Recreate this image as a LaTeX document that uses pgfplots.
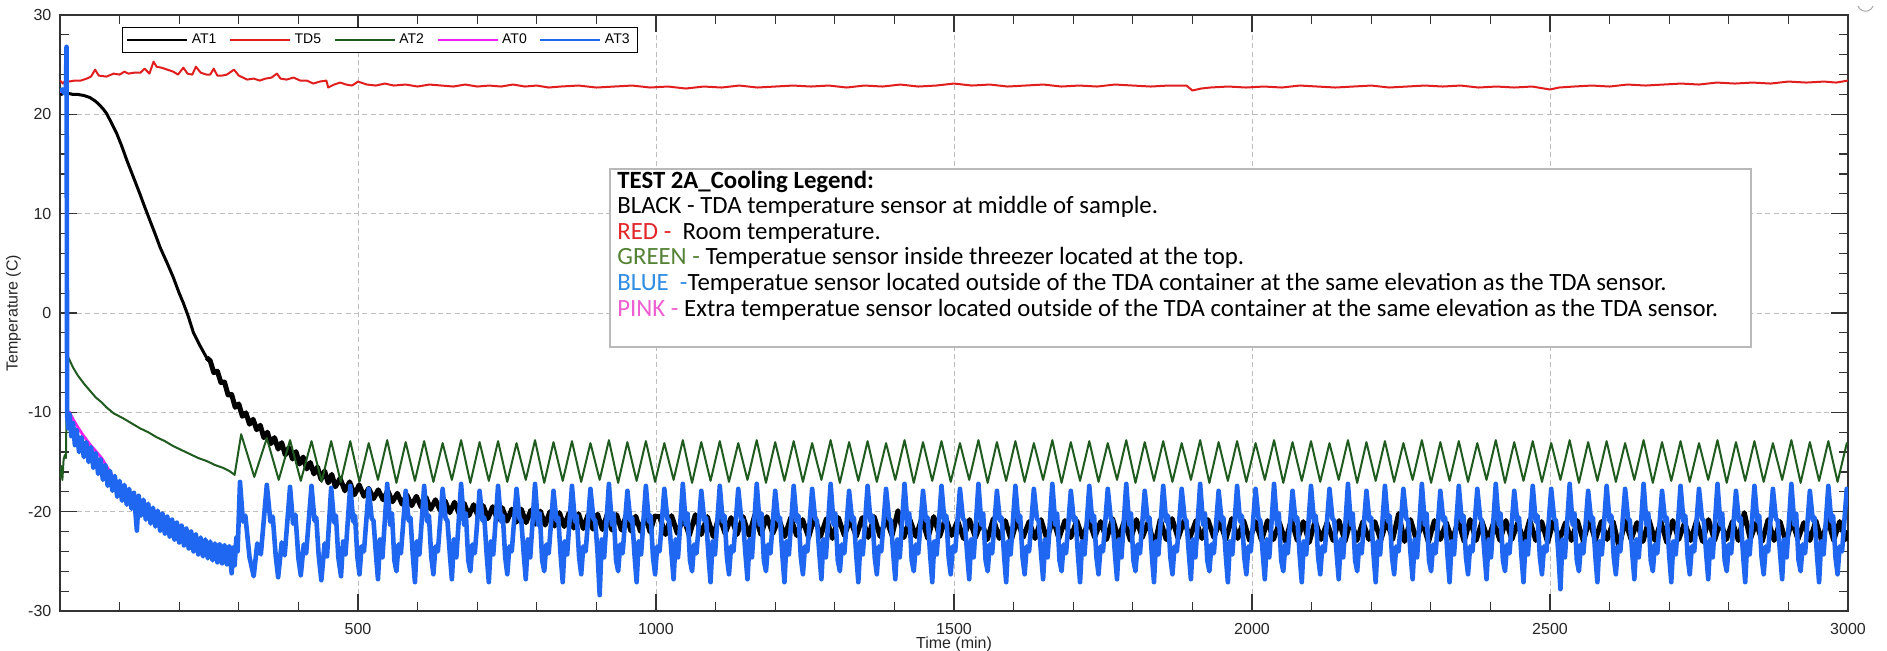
\documentclass[border=0pt]{standalone}
\usepackage{fontspec}
\setmainfont{Liberation Sans}
\newfontfamily\carlito{Carlito}
\usepackage{pgfplots}
\pgfplotsset{compat=1.18}
\definecolor{cRed}{HTML}{E01E1E}
\definecolor{cGreen}{HTML}{1F5A1F}
\definecolor{cBlue}{HTML}{1F66F0}
\definecolor{cPink}{HTML}{F020F0}
\definecolor{tRed}{HTML}{E3262A}
\definecolor{tGreen}{HTML}{548235}
\definecolor{tBlue}{HTML}{2F8DE4}
\definecolor{tPink}{HTML}{EE5FD1}
\definecolor{gridc}{HTML}{BDBDBD}
\begin{document}
\begin{tikzpicture}
\useasboundingbox (-30pt,-19.5pt) rectangle (913.5pt,305.5pt);
\begin{axis}[
  scale only axis, width=894pt, height=298pt,
  xmin=0, xmax=3000, ymin=-30, ymax=30,
  xtick={0,500,1000,1500,2000,2500,3000},
  xticklabels={,500,1000,1500,2000,2500,3000},
  ytick={-30,-20,-10,0,10,20,30},
  minor x tick num=4, minor y tick num=4,
  tick align=inside,
  major tick length=8.5pt, minor tick length=4.5pt,
  xmajorgrids, ymajorgrids,
  major grid style={dash pattern=on 2.5pt off 1.7pt, color=gridc, line width=0.5pt},
  axis line style={line width=0.7pt, color=black!80},
  every tick/.style={black!80, line width=0.6pt},
  tick label style={font=\fontsize{8}{9}\selectfont, color=black!85},
  xticklabel style={yshift=-2.6pt},
  yticklabel style={xshift=-0.8pt},
  /pgf/number format/assume math mode=true,
  /pgf/number format/1000 sep={},
  xlabel={Time (min)},
  ylabel={Temperature (C)},
  xlabel style={at={(axis description cs:0.5,-0.0634)}, anchor=base, inner sep=0pt, font=\fontsize{8}{9}\selectfont, color=black!85},
  ylabel style={at={(axis description cs:-0.0237,0.5)}, anchor=base, font=\fontsize{8}{9}\selectfont, color=black!85},
  legend columns=5,
  legend style={at={(axis description cs:0.0347,0.980)}, anchor=north west, draw=black, line width=0.6pt, fill=white, font=\fontsize{7}{8}\selectfont, inner xsep=2pt, inner ysep=1pt, /tikz/every even column/.append style={column sep=4.5pt}},
  legend image code/.code={\draw[#1, line width=0.6pt] (0pt,0pt) -- (30pt,0pt);},
]
% AT1 (black), smooth start
\addplot[black, line width=1.5pt, line join=round] coordinates {
(0,22.3)(3,22.0)(6,22.4)(10,22.2)(15,22.1)(22,22.0)(30,22.0)(40,21.9)(50,21.7)(60,21.3)(67,20.9)(73,20.5)(78,20.1)(85,19.3)(95,18.1)(103,16.9)(112,15.4)(123,13.7)(134,12.0)(142,10.7)(151,9.3)(160,7.9)(168,6.6)(180,5.0)(190,3.6)(200,2.0)(207,1.0)(215,-0.3)(224,-2.0)(235,-3.3)(246,-4.5)(252,-5.0)
};
\addlegendentry{AT1}
% AT1 (black), noisy part
\addplot[black, line width=2.5pt, line join=round, forget plot] coordinates {
(246,-4.5)(252,-4.8)(258,-6.0)(264,-5.85)(270,-7.0)(276,-6.95)(282,-8.25)(288,-8.2)(294,-9.5)(300,-9.15)(306,-10.4)(312,-10.05)(318,-11.2)(324,-10.7)(330,-11.75)(336,-11.3)(342,-12.55)(348,-12.0)(354,-13.15)(360,-12.55)(366,-13.7)(372,-13.05)(378,-14.3)(384,-13.55)(390,-14.7)(396,-13.95)(402,-15.2)(408,-14.5)(414,-15.7)(420,-15.05)(426,-16.2)(432,-15.5)(438,-16.75)(444,-15.9)(450,-17.1)(456,-16.25)(462,-17.5)(470,-16.65)(478,-17.9)(486,-17.0)(494,-18.3)(502,-17.3)
(510,-18.45)(518,-17.65)(526,-18.7)(534,-17.8)(542,-18.8)(550,-17.9)(558,-19.0)(566,-18.15)(574,-19.25)(582,-18.3)(590,-19.4)(598,-18.45)(606,-19.55)(614,-18.55)(622,-19.75)(630,-18.8)(638,-19.9)(646,-18.9)(654,-20.1)(662,-19.05)(670,-20.25)(678,-19.15)(686,-20.4)(694,-19.3)(702,-20.55)(710,-19.4)(718,-20.7)(726,-19.5)(734,-20.8)(742,-19.6)(750,-20.95)(758,-19.75)(766,-21.05)(774,-19.75)(782,-21.1)(790,-19.85)(798,-21.25)(806,-19.95)(814,-21.35)(822,-20.0)(830,-21.45)(838,-20.1)(846,-21.5)(854,-20.15)(862,-21.65)(870,-20.2)(878,-21.7)(886,-20.3)(894,-21.75)(902,-20.25)(910,-21.8)(918,-20.3)(926,-21.85)(934,-20.3)(942,-21.85)(950,-20.35)(958,-21.95)(966,-20.45)(974,-22.0)(982,-20.4)(990,-22.05)(998,-20.45)
(1006,-20.5)(1016,-22.3)(1026,-20.4)(1036,-22.2)(1046,-20.6)(1056,-22.4)(1066,-20.3)(1076,-22.3)(1086,-20.5)(1096,-22.5)(1106,-20.4)(1116,-22.2)(1126,-20.6)(1136,-22.3)(1146,-20.5)(1156,-22.4)(1166,-20.3)(1176,-22.3)(1186,-20.5)(1196,-22.2)
(1206,-20.7)(1216,-22.5)(1226,-20.6)(1236,-22.4)(1246,-20.8)(1256,-22.6)(1266,-20.5)(1276,-22.5)(1286,-20.7)(1296,-22.7)(1306,-20.6)(1316,-22.4)(1326,-20.8)(1336,-22.5)(1346,-20.6)(1356,-22.6)(1366,-20.5)(1376,-22.5)(1386,-20.7)(1396,-22.4)(1406,-19.9)(1416,-22.6)(1426,-20.8)(1436,-22.5)(1446,-20.7)(1456,-22.7)(1466,-20.5)(1476,-22.5)(1486,-20.6)(1496,-22.4)
(1506,-20.9)(1516,-22.7)(1526,-20.8)(1536,-22.6)(1546,-21.0)(1556,-22.8)(1566,-20.7)(1576,-22.7)(1586,-20.9)(1596,-22.9)(1606,-20.8)(1616,-22.6)(1626,-21.0)(1636,-22.7)(1646,-20.8)(1656,-22.8)(1666,-20.7)(1676,-22.7)(1686,-20.9)(1696,-22.6)
(1706,-20.9)(1716,-22.7)(1726,-20.8)(1736,-22.6)(1746,-21.0)(1756,-22.8)(1766,-20.7)(1776,-22.7)(1786,-20.9)(1796,-22.9)(1806,-20.8)(1816,-22.6)(1826,-21.0)(1836,-23.5)(1846,-20.8)(1856,-22.8)(1866,-20.7)(1876,-22.7)(1886,-20.9)(1896,-22.6)
(1906,-20.9)(1916,-22.7)(1926,-20.8)(1936,-22.6)(1946,-21.0)(1956,-22.8)(1966,-20.7)(1976,-22.7)(1986,-20.9)(1996,-22.9)
(2006,-21.0)(2016,-22.9)(2026,-20.9)(2036,-22.8)(2046,-21.1)(2056,-23.0)(2066,-20.8)(2076,-22.9)(2086,-21.0)(2096,-23.1)(2106,-20.9)(2116,-22.8)(2126,-21.1)(2136,-22.9)(2146,-20.9)(2156,-23.0)(2166,-20.8)(2176,-22.9)(2186,-21.0)(2196,-22.8)
(2206,-21.0)(2216,-22.9)(2226,-20.9)(2236,-22.8)(2246,-20.2)(2256,-23.0)(2266,-20.8)(2276,-22.9)(2286,-21.0)(2296,-23.1)(2306,-20.9)(2316,-22.8)(2326,-21.1)(2336,-22.9)(2346,-20.9)(2356,-23.0)(2366,-20.8)(2376,-22.9)(2386,-21.0)(2396,-22.8)
(2406,-21.0)(2416,-22.9)(2426,-20.9)(2436,-22.8)(2446,-21.1)(2456,-23.0)(2466,-20.8)(2476,-22.9)(2486,-21.0)(2496,-23.1)(2506,-20.9)(2516,-22.8)(2526,-21.1)(2536,-22.9)(2546,-20.9)(2556,-23.0)(2566,-20.8)(2576,-22.9)(2586,-21.0)(2596,-22.8)
(2606,-21.0)(2616,-23.6)(2626,-20.9)(2636,-22.8)(2646,-21.1)(2656,-23.0)(2666,-20.8)(2676,-22.9)(2686,-21.0)(2696,-23.1)(2706,-20.9)(2716,-22.8)(2726,-21.1)(2736,-22.9)(2746,-20.9)(2756,-23.0)(2766,-20.8)(2776,-22.9)(2786,-21.0)(2796,-22.8)
(2806,-21.0)(2816,-22.9)(2826,-20.1)(2836,-22.8)(2846,-21.1)(2856,-23.0)(2866,-20.8)(2876,-22.9)(2886,-21.0)(2896,-23.1)(2906,-20.9)(2916,-22.8)(2926,-21.1)(2936,-22.9)(2946,-20.9)(2956,-23.0)(2966,-20.8)(2976,-22.9)(2986,-21.0)(2996,-22.8)(3000,-21.9)
};
% TD5 (red)
\addplot[cRed, line width=1pt, line join=round] coordinates {
(0,23.4)(5,23.1)(10,23.5)(15,23.3)(25,23.4)(35,23.4)(45,23.6)(52,23.8)(59,24.5)(65,23.9)(78,23.8)(90,24.1)(100,24.0)(108,24.3)(115,24.1)(125,24.2)(135,24.2)(142,24.6)(150,24.1)(157,25.3)(162,24.8)(170,24.7)(180,24.5)(190,24.3)(198,24.0)(207,24.7)(214,24.1)(222,24.0)(228,24.8)(236,24.2)(246,24.0)(252,24.0)(258,24.6)(264,23.9)(272,23.9)(280,24.0)(292,24.5)(300,23.9)(314,23.5)(325,23.6)(335,23.4)(345,23.6)(355,23.7)(364,24.1)(370,23.6)(380,23.5)(392,23.7)(403,23.4)(414,23.4)(425,23.1)(436,23.3)(447,23.4)(450,22.7)(460,23.0)(470,23.2)(480,23.0)(490,22.9)(500,23.3)(515,23.0)(530,22.9)(545,23.1)(560,22.9)(580,23.0)(600,22.8)(620,23.0)(640,22.9)(660,22.8)(680,23.0)(700,22.8)(720,22.9)(740,22.8)(760,23.0)(780,22.8)(800,22.9)(820,22.7)(840,22.8)(870,22.9)(900,22.7)(930,22.8)(960,22.9)(990,22.7)(1020,22.8)(1050,22.6)(1080,22.8)(1110,22.7)(1140,22.9)(1170,22.7)(1200,22.8)(1230,22.9)(1260,22.8)(1290,22.9)(1320,22.7)(1350,22.9)(1380,22.8)(1410,23.0)(1440,22.8)(1470,22.9)(1500,23.1)(1530,22.9)(1560,23.0)(1590,22.8)(1620,22.9)(1650,23.0)(1680,22.8)(1710,22.9)(1740,22.8)(1770,23.0)(1800,22.9)(1830,22.8)(1860,22.9)(1890,22.9)(1900,22.4)(1915,22.6)(1930,22.7)(1960,22.8)(1990,22.7)(2020,22.8)(2050,22.7)(2080,22.9)(2110,22.8)(2140,22.7)(2170,22.8)(2200,22.9)(2230,22.7)(2260,22.8)(2290,22.9)(2320,22.8)(2350,22.9)(2380,22.7)(2410,22.8)(2440,22.7)(2470,22.8)(2500,22.5)(2515,22.7)(2540,22.8)(2570,22.9)(2600,22.8)(2630,23.0)(2660,22.9)(2690,23.0)(2720,23.1)(2750,23.0)(2780,23.2)(2810,23.1)(2840,23.2)(2870,23.1)(2900,23.3)(2930,23.2)(2960,23.3)(2980,23.2)(3000,23.4)
};
\addlegendentry{TD5}
% AT2 (green)
\addplot[cGreen, line width=1pt, line join=round] coordinates {
(0,-16.6)(2,-15.4)(4,-16.8)(6,-14.8)(8,-14.3)(10,-14.6)(12,-4.3)(15,-4.6)(22,-5.5)(30,-6.3)(40,-7.1)(50,-7.8)(60,-8.5)(70,-9.0)(78,-9.5)(90,-10.1)(106,-10.6)(120,-11.1)(134,-11.6)(148,-12.0)(162,-12.5)(176,-12.9)(190,-13.4)(204,-13.8)(218,-14.2)(232,-14.6)(246,-14.9)(260,-15.3)(274,-15.6)(284,-15.9)(291,-16.2)(293,-16.3)
(304,-12.2)(326,-16.5)(347,-12.6)(367,-16.8)(386,-12.8)(404,-16.9)(422,-12.9)(439,-17.0)(455,-12.9)(471,-17.0)
(487,-12.9)(502.5,-17.0)(518,-13.1)(533.5,-16.8)(549,-12.8)(564.5,-17.1)(580,-13.0)(595.5,-16.9)
(611,-12.9)(626.5,-17.0)(642,-13.1)(657.5,-16.8)(673,-12.8)(688.5,-17.1)(704,-13.0)(719.5,-16.9)
(735,-12.9)(750.5,-17.0)(766,-13.1)(781.5,-16.8)(797,-12.8)(812.5,-17.1)(828,-13.0)(843.5,-16.9)
(859,-12.9)(874.5,-17.0)(890,-13.1)(905.5,-16.8)(921,-12.8)(936.5,-17.1)(952,-13.0)(967.5,-16.9)
(983,-12.9)(998.5,-17.0)(1014,-13.1)(1029.5,-16.8)(1045,-12.8)(1060.5,-17.1)(1076,-13.0)(1091.5,-16.9)
(1107,-12.9)(1122.5,-17.0)(1138,-13.1)(1153.5,-16.8)(1169,-12.8)(1184.5,-17.1)(1200,-13.0)(1215.5,-16.9)
(1231,-12.9)(1246.5,-17.0)(1262,-13.1)(1277.5,-16.8)(1293,-12.8)(1308.5,-17.1)(1324,-13.0)(1339.5,-16.9)
(1355,-12.9)(1370.5,-17.0)(1386,-13.1)(1401.5,-16.8)(1417,-12.8)(1432.5,-17.1)(1448,-13.0)(1463.5,-16.9)
(1479,-12.9)(1494.5,-17.0)(1510,-13.1)(1525.5,-16.8)(1541,-12.8)(1556.5,-17.1)(1572,-13.0)(1587.5,-16.9)
(1603,-12.9)(1618.5,-17.0)(1634,-13.1)(1649.5,-16.8)(1665,-12.8)(1680.5,-17.1)(1696,-13.0)(1711.5,-16.9)
(1727,-12.9)(1742.5,-17.0)(1758,-13.1)(1773.5,-16.8)(1789,-12.8)(1804.5,-17.1)(1820,-13.0)(1835.5,-16.9)
(1851,-12.9)(1866.5,-17.0)(1882,-13.1)(1897.5,-16.8)(1913,-12.8)(1928.5,-17.1)(1944,-13.0)(1959.5,-16.9)
(1975,-12.9)(1990.5,-17.0)(2006,-13.1)(2021.5,-16.8)(2037,-12.8)(2052.5,-17.1)(2068,-13.0)(2083.5,-16.9)
(2099,-12.9)(2114.5,-17.0)(2130,-13.1)(2145.5,-16.8)(2161,-12.8)(2176.5,-17.1)(2192,-13.0)(2207.5,-16.9)
(2223,-12.9)(2238.5,-17.0)(2254,-13.1)(2269.5,-16.8)(2285,-12.8)(2300.5,-17.1)(2316,-13.0)(2331.5,-16.9)
(2347,-12.9)(2362.5,-17.0)(2378,-13.1)(2393.5,-16.8)(2409,-12.8)(2424.5,-17.1)(2440,-13.0)(2455.5,-16.9)
(2471,-12.9)(2486.5,-17.0)(2502,-13.1)(2517.5,-16.8)(2533,-12.8)(2548.5,-17.1)(2564,-13.0)(2579.5,-16.9)
(2595,-12.9)(2610.5,-17.0)(2626,-13.1)(2641.5,-16.8)(2657,-12.8)(2672.5,-17.1)(2688,-13.0)(2703.5,-16.9)
(2719,-12.9)(2734.5,-17.0)(2750,-13.1)(2765.5,-16.8)(2781,-12.8)(2796.5,-17.1)(2812,-13.0)(2827.5,-16.9)
(2843,-12.9)(2858.5,-17.0)(2874,-13.1)(2889.5,-16.8)(2905,-12.8)(2920.5,-17.1)(2936,-13.0)(2951.5,-16.9)
(2967,-12.9)(2982.5,-17.0)(2998,-13.1)(3000,-13.3)
};
\addlegendentry{AT2}
% AT0 (pink)
\addplot[cPink, line width=1.4pt, line join=round] coordinates {
(0,22.3)(10,22.4)(11,25.6)(12,3.5)(12.5,-9.9)(16,-10.0)(22,-10.7)(30,-11.5)(40,-12.4)(50,-13.2)(60,-13.9)(70,-14.6)(80,-15.6)(90,-16.6)(100,-17.5)(120,-18.7)(140,-19.6)(160,-20.5)(180,-21.3)(200,-22.1)(220,-22.8)(240,-23.5)(260,-24.0)(280,-24.4)(293,-24.6)
};
\addlegendentry{AT0}
% AT3 (blue)
\addplot[cBlue, line width=2.3pt, line join=round] coordinates {
(0,22.3)(4,22.5)(8,22.1)(10,22.6)(11,26.8)(12,-10.3)(14,-11.6)(16,-10.2)(19,-12.4)(22,-11.1)(25,-13.3)(28,-11.8)(32,-14.0)(36,-12.5)(40,-14.5)(44,-13.0)(48,-15.0)(52,-13.5)(56,-15.6)(60,-14.1)(64,-16.2)(68,-14.7)(72,-16.8)(76,-15.3)(80,-17.4)(84,-15.9)(88,-17.9)(92,-16.4)(96,-18.5)(100,-16.9)(104,-18.9)(108,-17.3)(112,-19.3)(116,-17.7)(120,-19.7)(124,-18.1)(129,-21.9)(132,-18.4)(136,-20.4)(140,-18.8)(144,-20.8)(148,-19.2)(152,-21.2)(156,-19.6)(160,-21.5)(164,-19.9)(168,-21.9)(172,-20.2)(176,-22.2)(180,-20.5)(184,-22.5)(188,-20.8)(192,-22.8)(196,-21.1)(200,-23.1)(204,-21.4)(208,-23.4)(212,-21.7)(216,-23.7)(220,-22.0)(224,-24.0)(228,-22.3)(232,-24.3)(236,-22.6)(240,-24.5)(244,-22.8)(248,-24.7)(252,-23.0)(256,-24.9)(260,-23.2)(264,-25.1)(268,-23.3)(272,-25.2)(276,-23.4)(280,-25.3)(284,-23.5)(288,-26.2)(291,-23.6)(293,-25.4)
(296,-22.6)(298,-24.0)(302,-17.0)(307,-21.0)(311,-20.4)(318,-24.6)(325,-26.5)
(331,-23.2)(337,-24.3)(347,-17.3)(353,-21.0)(357,-20.5)(362,-24.5)(366,-26.6)
(372,-23.1)(377,-24.4)(386,-17.5)(391,-21.2)(395,-20.3)(400,-24.7)(404,-26.4)
(409,-23.3)(413,-24.2)(422,-17.4)(427,-20.9)(430,-20.6)(434,-24.4)(438.5,-26.9)
(444,-23.2)(448,-24.5)(455,-17.6)(460,-21.1)(463,-20.4)(467,-24.6)(471.5,-26.5)
(475,-23.0)(479,-24.3)(487,-17.4)(492,-21.0)(495,-20.4)(499,-24.6)(502.5,-26.3)
(506,-23.5)(510,-24.0)(518,-17.7)(523,-20.7)(526,-20.9)(530,-24.2)(533.5,-26.8)
(537,-22.8)(541,-24.6)(549,-17.2)(554,-21.3)(557,-20.2)(561,-24.9)(564.5,-26.0)
(568,-23.3)(572,-24.2)(580,-17.9)(585,-20.9)(588,-20.6)(592,-24.4)(595.5,-27.1)
(599,-23.0)(603,-24.3)(611,-17.4)(616,-21.0)(619,-20.4)(623,-24.6)(626.5,-26.3)
(630,-23.5)(634,-24.0)(642,-17.7)(647,-20.7)(650,-20.9)(654,-24.2)(657.5,-26.8)
(661,-22.8)(665,-24.6)(673,-17.2)(678,-21.3)(681,-20.2)(685,-24.9)(688.5,-26.0)
(692,-23.3)(696,-24.2)(704,-17.9)(709,-20.9)(712,-20.6)(716,-24.4)(719.5,-27.1)
(723,-23.0)(727,-24.3)(735,-17.4)(740,-21.0)(743,-20.4)(747,-24.6)(750.5,-26.3)
(754,-23.5)(758,-24.0)(766,-17.7)(771,-20.7)(774,-20.9)(778,-24.2)(781.5,-26.8)
(785,-22.8)(789,-24.6)(797,-17.2)(802,-21.3)(805,-20.2)(809,-24.9)(812.5,-26.0)
(816,-23.3)(820,-24.2)(828,-17.9)(833,-20.9)(836,-20.6)(840,-24.4)(843.5,-27.1)
(847,-23.0)(851,-24.3)(859,-17.4)(864,-21.0)(867,-20.4)(871,-24.6)(874.5,-26.3)
(878,-23.5)(882,-24.0)(890,-17.7)(895,-20.7)(898,-20.9)(902,-24.2)(905.5,-28.4)
(909,-22.8)(913,-24.6)(921,-17.2)(926,-21.3)(929,-20.2)(933,-24.9)(936.5,-26.0)
(940,-23.3)(944,-24.2)(952,-17.9)(957,-20.9)(960,-20.6)(964,-24.4)(967.5,-27.1)
(971,-23.0)(975,-24.3)(983,-17.4)(988,-21.0)(991,-20.4)(995,-24.6)(998.5,-26.3)
(1002,-23.5)(1006,-24.0)(1014,-17.7)(1019,-20.7)(1022,-20.9)(1026,-24.2)(1029.5,-26.8)
(1033,-22.8)(1037,-24.6)(1045,-17.2)(1050,-21.3)(1053,-20.2)(1057,-24.9)(1060.5,-26.0)
(1064,-23.3)(1068,-24.2)(1076,-17.9)(1081,-20.9)(1084,-20.6)(1088,-24.4)(1091.5,-27.1)
(1095,-23.0)(1099,-24.3)(1107,-17.4)(1112,-21.0)(1115,-20.4)(1119,-24.6)(1122.5,-26.3)
(1126,-23.5)(1130,-24.0)(1138,-17.7)(1143,-20.7)(1146,-20.9)(1150,-24.2)(1153.5,-26.8)
(1157,-22.8)(1161,-24.6)(1169,-17.2)(1174,-21.3)(1177,-20.2)(1181,-24.9)(1184.5,-26.0)
(1188,-23.3)(1192,-24.2)(1200,-17.9)(1205,-20.9)(1208,-20.6)(1212,-24.4)(1215.5,-27.1)
(1219,-23.0)(1223,-24.3)(1231,-17.4)(1236,-21.0)(1239,-20.4)(1243,-24.6)(1246.5,-26.3)
(1250,-23.5)(1254,-24.0)(1262,-17.7)(1267,-20.7)(1270,-20.9)(1274,-24.2)(1277.5,-26.8)
(1281,-22.8)(1285,-24.6)(1293,-17.2)(1298,-21.3)(1301,-20.2)(1305,-24.9)(1308.5,-26.0)
(1312,-23.3)(1316,-24.2)(1324,-17.9)(1329,-20.9)(1332,-20.6)(1336,-24.4)(1339.5,-27.1)
(1343,-23.0)(1347,-24.3)(1355,-17.4)(1360,-21.0)(1363,-20.4)(1367,-24.6)(1370.5,-26.3)
(1374,-23.5)(1378,-24.0)(1386,-17.7)(1391,-20.7)(1394,-20.9)(1398,-24.2)(1401.5,-26.8)
(1405,-22.8)(1409,-24.6)(1417,-17.2)(1422,-21.3)(1425,-20.2)(1429,-24.9)(1432.5,-26.0)
(1436,-23.3)(1440,-24.2)(1448,-17.9)(1453,-20.9)(1456,-20.6)(1460,-24.4)(1463.5,-27.1)
(1467,-23.0)(1471,-24.3)(1479,-17.4)(1484,-21.0)(1487,-20.4)(1491,-24.6)(1494.5,-26.3)
(1498,-23.5)(1502,-24.0)(1510,-17.7)(1515,-20.7)(1518,-20.9)(1522,-24.2)(1525.5,-26.8)
(1529,-22.8)(1533,-24.6)(1541,-17.2)(1546,-21.3)(1549,-20.2)(1553,-24.9)(1556.5,-26.0)
(1560,-23.3)(1564,-24.2)(1572,-17.9)(1577,-20.9)(1580,-20.6)(1584,-24.4)(1587.5,-27.1)
(1591,-23.0)(1595,-24.3)(1603,-17.4)(1608,-21.0)(1611,-20.4)(1615,-24.6)(1618.5,-26.3)
(1622,-23.5)(1626,-24.0)(1634,-17.7)(1639,-20.7)(1642,-20.9)(1646,-24.2)(1649.5,-26.8)
(1653,-22.8)(1657,-24.6)(1665,-17.2)(1670,-21.3)(1673,-20.2)(1677,-24.9)(1680.5,-26.0)
(1684,-23.3)(1688,-24.2)(1696,-17.9)(1701,-20.9)(1704,-20.6)(1708,-24.4)(1711.5,-27.1)
(1715,-23.0)(1719,-24.3)(1727,-17.4)(1732,-21.0)(1735,-20.4)(1739,-24.6)(1742.5,-26.3)
(1746,-23.5)(1750,-24.0)(1758,-17.7)(1763,-20.7)(1766,-20.9)(1770,-24.2)(1773.5,-26.8)
(1777,-22.8)(1781,-24.6)(1789,-17.2)(1794,-21.3)(1797,-20.2)(1801,-24.9)(1804.5,-26.0)
(1808,-23.3)(1812,-24.2)(1820,-17.9)(1825,-20.9)(1828,-20.6)(1832,-24.4)(1835.5,-27.1)
(1839,-23.0)(1843,-24.3)(1851,-17.4)(1856,-21.0)(1859,-20.4)(1863,-24.6)(1866.5,-26.3)
(1870,-23.5)(1874,-24.0)(1882,-17.7)(1887,-20.7)(1890,-20.9)(1894,-24.2)(1897.5,-26.8)
(1901,-22.8)(1905,-24.6)(1913,-17.2)(1918,-21.3)(1921,-20.2)(1925,-24.9)(1928.5,-26.0)
(1932,-23.3)(1936,-24.2)(1944,-17.9)(1949,-20.9)(1952,-20.6)(1956,-24.4)(1959.5,-27.1)
(1963,-23.0)(1967,-24.3)(1975,-17.4)(1980,-21.0)(1983,-20.4)(1987,-24.6)(1990.5,-26.3)
(1994,-23.5)(1998,-24.0)(2006,-17.7)(2011,-20.7)(2014,-20.9)(2018,-24.2)(2021.5,-26.8)
(2025,-22.8)(2029,-24.6)(2037,-17.2)(2042,-21.3)(2045,-20.2)(2049,-24.9)(2052.5,-26.0)
(2056,-23.3)(2060,-24.2)(2068,-17.9)(2073,-20.9)(2076,-20.6)(2080,-24.4)(2083.5,-27.1)
(2087,-23.0)(2091,-24.3)(2099,-17.4)(2104,-21.0)(2107,-20.4)(2111,-24.6)(2114.5,-26.3)
(2118,-23.5)(2122,-24.0)(2130,-17.7)(2135,-20.7)(2138,-20.9)(2142,-24.2)(2145.5,-26.8)
(2149,-22.8)(2153,-24.6)(2161,-17.2)(2166,-21.3)(2169,-20.2)(2173,-24.9)(2176.5,-26.0)
(2180,-23.3)(2184,-24.2)(2192,-17.9)(2197,-20.9)(2200,-20.6)(2204,-24.4)(2207.5,-27.1)
(2211,-23.0)(2215,-24.3)(2223,-17.4)(2228,-21.0)(2231,-20.4)(2235,-24.6)(2238.5,-26.3)
(2242,-23.5)(2246,-24.0)(2254,-17.7)(2259,-20.7)(2262,-20.9)(2266,-24.2)(2269.5,-26.8)
(2273,-22.8)(2277,-24.6)(2285,-17.2)(2290,-21.3)(2293,-20.2)(2297,-24.9)(2300.5,-26.0)
(2304,-23.3)(2308,-24.2)(2316,-17.9)(2321,-20.9)(2324,-20.6)(2328,-24.4)(2331.5,-27.1)
(2335,-23.0)(2339,-24.3)(2347,-17.4)(2352,-21.0)(2355,-20.4)(2359,-24.6)(2362.5,-26.3)
(2366,-23.5)(2370,-24.0)(2378,-17.7)(2383,-20.7)(2386,-20.9)(2390,-24.2)(2393.5,-26.8)
(2397,-22.8)(2401,-24.6)(2409,-17.2)(2414,-21.3)(2417,-20.2)(2421,-24.9)(2424.5,-26.0)
(2428,-23.3)(2432,-24.2)(2440,-17.9)(2445,-20.9)(2448,-20.6)(2452,-24.4)(2455.5,-27.1)
(2459,-23.0)(2463,-24.3)(2471,-17.4)(2476,-21.0)(2479,-20.4)(2483,-24.6)(2486.5,-26.3)
(2490,-23.5)(2494,-24.0)(2502,-17.7)(2507,-20.7)(2510,-20.9)(2514,-24.2)(2517.5,-27.8)
(2521,-22.8)(2525,-24.6)(2533,-17.2)(2538,-21.3)(2541,-20.2)(2545,-24.9)(2548.5,-26.0)
(2552,-23.3)(2556,-24.2)(2564,-17.9)(2569,-20.9)(2572,-20.6)(2576,-24.4)(2579.5,-27.1)
(2583,-23.0)(2587,-24.3)(2595,-17.4)(2600,-21.0)(2603,-20.4)(2607,-24.6)(2610.5,-26.3)
(2614,-23.5)(2618,-24.0)(2626,-17.7)(2631,-20.7)(2634,-20.9)(2638,-24.2)(2641.5,-26.8)
(2645,-22.8)(2649,-24.6)(2657,-17.2)(2662,-21.3)(2665,-20.2)(2669,-24.9)(2672.5,-26.0)
(2676,-23.3)(2680,-24.2)(2688,-17.9)(2693,-20.9)(2696,-20.6)(2700,-24.4)(2703.5,-27.1)
(2707,-23.0)(2711,-24.3)(2719,-17.4)(2724,-21.0)(2727,-20.4)(2731,-24.6)(2734.5,-26.3)
(2738,-23.5)(2742,-24.0)(2750,-17.7)(2755,-20.7)(2758,-20.9)(2762,-24.2)(2765.5,-26.8)
(2769,-22.8)(2773,-24.6)(2781,-17.2)(2786,-21.3)(2789,-20.2)(2793,-24.9)(2796.5,-26.0)
(2800,-23.3)(2804,-24.2)(2812,-17.9)(2817,-20.9)(2820,-20.6)(2824,-24.4)(2827.5,-27.1)
(2831,-23.0)(2835,-24.3)(2843,-17.4)(2848,-21.0)(2851,-20.4)(2855,-24.6)(2858.5,-26.3)
(2862,-23.5)(2866,-24.0)(2874,-17.7)(2879,-20.7)(2882,-20.9)(2886,-24.2)(2889.5,-26.8)
(2893,-22.8)(2897,-24.6)(2905,-17.2)(2910,-21.3)(2913,-20.2)(2917,-24.9)(2920.5,-26.0)
(2924,-23.3)(2928,-24.2)(2936,-17.9)(2941,-20.9)(2944,-20.6)(2948,-24.4)(2951.5,-27.1)
(2955,-23.0)(2959,-24.3)(2967,-17.4)(2972,-21.0)(2975,-20.4)(2979,-24.6)(2982.5,-26.3)
(2986,-23.5)(2990,-24.0)(2998,-17.7)(3000,-18.9)
};
\addlegendentry{AT3}
\end{axis}
% annotation box
\draw[draw=gray!55, fill=white, line width=0.6pt] (275pt,132pt) rectangle (845.5pt,221pt);
\begin{scope}[every node/.style={anchor=base west, inner sep=0pt, font=\carlito\fontsize{12.4}{14}\selectfont}]
\node at (278.5pt,211.5pt) {\bfseries TEST 2A\_Cooling Legend:};
\node at (278.5pt,198.7pt) {BLACK - TDA temperature sensor at middle of sample.};
\node at (278.5pt,185.9pt) {\textcolor{tRed}{RED -}\ \ Room temperature.};
\node at (278.5pt,173.1pt) {\textcolor{tGreen}{GREEN -} Temperatue sensor inside threezer located at the top.};
\node at (278.5pt,160.3pt) {\textcolor{tBlue}{BLUE\ \ -}Temperatue sensor located outside of the TDA container at the same elevation as the TDA sensor.};
\node at (278.5pt,147.5pt) {\textcolor{tPink}{PINK -} Extra temperatue sensor located outside of the TDA container at the same elevation as the TDA sensor.};
\end{scope}
\draw[gray!70, line width=0.5pt] (899pt,302.5pt) arc[start angle=200, end angle=340, radius=4pt];
\end{tikzpicture}
\end{document}
